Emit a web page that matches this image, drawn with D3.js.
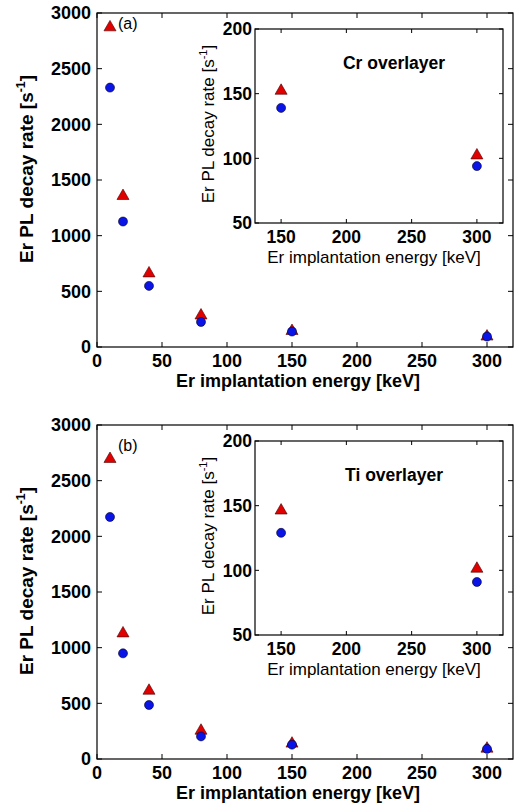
<!DOCTYPE html>
<head>
    <meta charset="utf-8"/>
    <script src="https://d3js.org/d3.v7.min.js"></script>
    <style>
        body {
            margin: 0;
            background: #fff;
        }
        text {
            font-family: "Liberation Sans", Arial, sans-serif;
        }
    </style>
</head>

<body>
<script>
    // energies (keV)
    var energies = [10, 20, 40, 80, 150, 300];
    var insetEnergies = [150, 300];

    // panel (a) : Cr overlayer
    var crTriangles = [2880, 1365, 670, 292, 153, 103];
    var crCircles = [2330, 1127, 549, 225, 139, 94];
    var crInsetTriangles = [153, 103];
    var crInsetCircles = [139, 94];

    // panel (b) : Ti overlayer
    var tiTriangles = [2704, 1137, 622, 263, 147, 102];
    var tiCircles = [2174, 949, 485, 203, 129, 91];
    var tiInsetTriangles = [147, 102];
    var tiInsetCircles = [129, 91];

    var mainXTicks = [0, 50, 100, 150, 200, 250, 300];
    var mainYTicks = [0, 500, 1000, 1500, 2000, 2500, 3000];
    var insetXTicks = [150, 200, 250, 300];
    var insetYTicks = [50, 100, 150, 200];

    var width = 532,
        height = 810;

    var svg = d3.select("body")
        .append("svg")
        .attr("width", width)
        .attr("height", height);

    var red = "#e00000", blue = "#0a14e6";

    function frame(g, x, y, xt, yt, tick, fontSize, weight) {
        var x0 = x.range()[0], x1 = x.range()[1];
        var y0 = y.range()[0], y1 = y.range()[1];

        g.append("rect")
            .attr("x", x0).attr("y", y1)
            .attr("width", x1 - x0).attr("height", y0 - y1)
            .attr("fill", "#fff")
            .attr("stroke", "#000")
            .attr("stroke-width", 1.2);

        // ticks inward on all 4 sides (matlab style)
        xt.forEach(function (t) {
            g.append("line").attr("x1", x(t)).attr("x2", x(t)).attr("y1", y0).attr("y2", y0 - tick).attr("stroke", "#000");
            g.append("line").attr("x1", x(t)).attr("x2", x(t)).attr("y1", y1).attr("y2", y1 + tick).attr("stroke", "#000");
            g.append("text")
                .attr("x", x(t)).attr("y", y0 + fontSize + 2)
                .attr("text-anchor", "middle")
                .attr("font-size", fontSize)
                .attr("font-weight", weight)
                .text(t);
        });
        yt.forEach(function (t) {
            g.append("line").attr("x1", x0).attr("x2", x0 + tick).attr("y1", y(t)).attr("y2", y(t)).attr("stroke", "#000");
            g.append("line").attr("x1", x1).attr("x2", x1 - tick).attr("y1", y(t)).attr("y2", y(t)).attr("stroke", "#000");
            g.append("text")
                .attr("x", x0 - (fontSize > 17.5 ? 6 : 3)).attr("y", y(t))
                .attr("dy", "0.36em")
                .attr("text-anchor", "end")
                .attr("font-size", fontSize)
                .attr("font-weight", weight)
                .text(t);
        });
    }

    function markers(g, x, y, xs, tris, circs, size) {
        var tri = d3.symbol().type(d3.symbolTriangle).size(size * 7);
        g.selectAll(null)
            .data(xs.map(function (d, i) { return [d, tris[i]]; }))
            .join("path")
            .attr("d", tri)
            .attr("transform", function (d) { return "translate(" + x(d[0]) + "," + (y(d[1]) + 1) + ")"; })
            .attr("fill", red)
            .attr("stroke", "#400")
            .attr("stroke-width", 0.6);
        g.selectAll(null)
            .data(xs.map(function (d, i) { return [d, circs[i]]; }))
            .join("circle")
            .attr("cx", function (d) { return x(d[0]); })
            .attr("cy", function (d) { return y(d[1]); })
            .attr("r", size / 2)
            .attr("fill", blue)
            .attr("stroke", "#002")
            .attr("stroke-width", 0.6);
    }

    function yLabel(g, cx, cy, size, weight) {
        var t = g.append("text")
            .attr("transform", "translate(" + cx + "," + cy + ") rotate(-90)")
            .attr("text-anchor", "middle")
            .attr("font-size", size)
            .attr("font-weight", weight);
        t.append("tspan").text("Er PL decay rate [s");
        t.append("tspan").attr("font-size", size * 0.65).attr("dy", -size * 0.4).text("-1");
        t.append("tspan").attr("dy", size * 0.4).text("]");
    }

    function drawPanel(top, letter, letterY, label, tris, circs, itris, icircs) {
        var g = svg.append("g");

        var x = d3.scaleLinear().domain([0, 320]).range([97, 513]);
        var y = d3.scaleLinear().domain([0, 3000]).range([top + 334, top]);

        frame(g, x, y, mainXTicks, mainYTicks, 5, 18, "bold");
        markers(g, x, y, energies, tris, circs, 9);

        g.append("text")
            .attr("x", 298).attr("y", top + 374)
            .attr("text-anchor", "middle")
            .attr("font-size", 18)
            .attr("font-weight", "bold")
            .text("Er implantation energy [keV]");
        yLabel(g, 33, top + 156, 19, "bold");

        g.append("text")
            .attr("x", 118).attr("y", top + letterY)
            .attr("font-size", 16)
            .text(letter);

        // inset
        var ig = g.append("g");
        var ix = d3.scaleLinear().domain([130, 320]).range([255, 503]);
        var iy = d3.scaleLinear().domain([50, 200]).range([top + 210, top + 16]);

        frame(ig, ix, iy, insetXTicks, insetYTicks, 4, 17.5, "bold");
        markers(ig, ix, iy, insetEnergies, itris, icircs, 9);

        ig.append("text")
            .attr("x", 374).attr("y", top + 250)
            .attr("text-anchor", "middle")
            .attr("font-size", 17)
            .text("Er implantation energy [keV]");
        yLabel(ig, 214, top + 111, 17, "normal");

        ig.append("text")
            .attr("x", 394).attr("y", top + 56)
            .attr("text-anchor", "middle")
            .attr("font-size", 17.5)
            .attr("font-weight", "bold")
            .text(label);
    }

    drawPanel(13, "(a)", 16, "Cr overlayer", crTriangles, crCircles, crInsetTriangles, crInsetCircles);
    drawPanel(425, "(b)", 26, "Ti overlayer", tiTriangles, tiCircles, tiInsetTriangles, tiInsetCircles);
</script>
</body>
